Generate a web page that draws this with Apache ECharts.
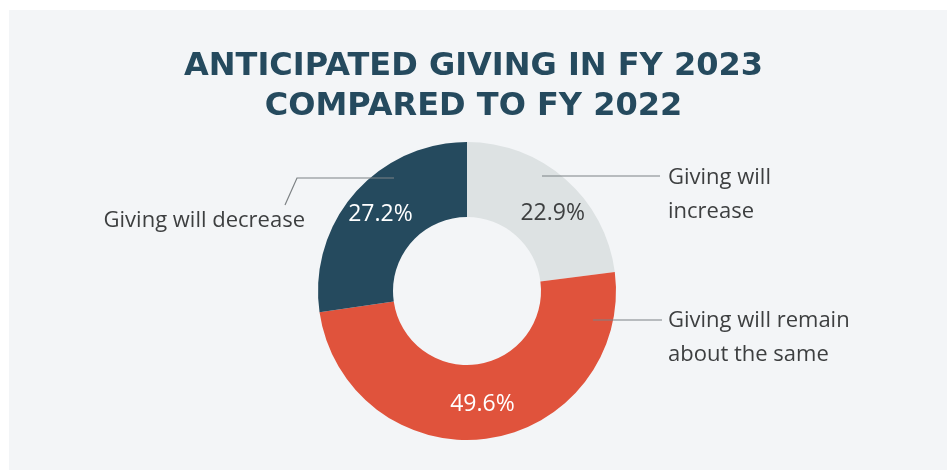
<!DOCTYPE html>
<html>
<head>
<meta charset="utf-8">
<script src="https://cdn.jsdelivr.net/npm/echarts@6/dist/echarts.min.js"></script>
<style>
  html, body { margin: 0; padding: 0; background: #ffffff; }
  #chart { width: 947px; height: 470px; }
</style>
</head>
<body>
<div id="chart"></div>
<script>
// slices, clockwise from 12 o'clock
const categories = ["Giving will increase", "Giving will remain about the same", "Giving will decrease"];
const labelTexts = ["Giving will\nincrease", "Giving will remain\nabout the same", "Giving will decrease"];
const values = [22.9, 49.6, 27.2];
const colors = ["#dde2e3", "#e0533c", "#254a5e"];
const pctColors = ["#3d3f40", "#ffffff", "#ffffff"];

const chart = echarts.init(document.getElementById("chart"));

const font = "'Open Sans', sans-serif";

// where the outside labels and their leader lines sit
const outLayout = [
	{ x: 668, y: 195, align: "left", pts: [[542, 176], [601, 176], [660, 176]] },
	{ x: 668, y: 338, align: "left", pts: [[593, 320], [628, 320], [662, 320]] },
	{ x: 305, y: 221, align: "right", pts: [[394, 178], [297, 178], [285, 205]] },
];
const pctOffset = [[10, 8], [0, 0], [0, -2]];

chart.setOption({
	backgroundColor: "transparent",
	graphic: [
		{
			type: "rect",
			z: -10,
			shape: { x: 9, y: 10, width: 938, height: 460 },
			style: { fill: "#f3f5f7" },
			silent: true,
		},
	],
	title: {
		text: "ANTICIPATED GIVING IN FY 2023\nCOMPARED TO FY 2022",
		left: "center",
		top: 42,
		textStyle: {
			fontFamily: "'DejaVu Sans', sans-serif",
			fontWeight: "bold",
			fontSize: 32,
			lineHeight: 40,
			color: "#254a5e",
		},
	},
	series: [
		{
			name: "share",
			type: "pie",
			center: [467, 291],
			radius: [74, 149],
			startAngle: 90,
			clockwise: true,
			silent: true,
			data: values.map((v, i) => ({
				name: categories[i],
				value: v,
				itemStyle: { color: colors[i] },
				label: {
					color: pctColors[i],
					offset: pctOffset[i],
				},
			})),
			label: {
				show: true,
				position: "inside",
				formatter: (p) => p.value.toFixed(1) + "%",
				fontFamily: font,
				fontSize: 23,
			},
			labelLine: { show: false },
		},
		{
			name: "labels",
			type: "pie",
			center: [467, 291],
			radius: [0, 133],
			startAngle: 90,
			clockwise: true,
			silent: true,
			z: 5,
			itemStyle: { color: "transparent" },
			data: values.map((v, i) => ({ name: labelTexts[i], value: v })),
			label: {
				show: true,
				position: "outside",
				formatter: "{b}",
				fontFamily: font,
				fontSize: 22,
				lineHeight: 34,
				color: "#3d3f40",
			},
			labelLine: {
				show: true,
				lineStyle: { color: "#7d8285", width: 1.2 },
			},
			labelLayout: (p) => {
				const l = outLayout[p.dataIndex];
				return {
					x: l.x,
					y: l.y,
					align: l.align,
					verticalAlign: "middle",
					labelLinePoints: l.pts,
				};
			},
		},
	],
});
</script>
</body>
</html>
